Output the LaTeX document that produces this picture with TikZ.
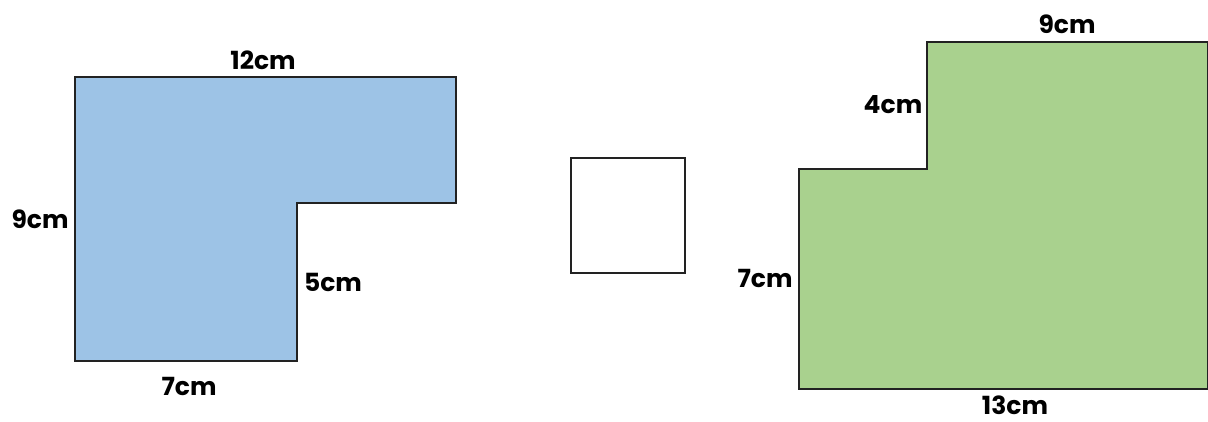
\documentclass[tikz,border=0pt]{standalone}
\usepackage{fontspec}
\setmainfont{Poppins}[BoldFont={* Bold}]
\definecolor{lblue}{HTML}{9DC3E6}
\definecolor{lgreen}{HTML}{A9D18E}
\definecolor{edge}{HTML}{222222}
\begin{document}
\begin{tikzpicture}[x=1pt,y=-1pt,
  shapeline/.style={draw=edge,line width=2.4pt,line join=miter},
  lbl/.style={font=\fontsize{25}{25}\selectfont\bfseries,text=black,inner sep=0pt}]
\useasboundingbox (0,0) rectangle (1208,421);
% blue L shape
\coordinate (b1) at (75,77);
\coordinate (b2) at (456,77);
\coordinate (b3) at (456,203);
\coordinate (b4) at (297,203);
\coordinate (b5) at (297,361);
\coordinate (b6) at (75,361);
\filldraw[shapeline,fill=lblue] (b1) -- (b2) -- (b3) -- (b4) -- (b5) -- (b6) -- cycle;
% square
\coordinate (s1) at (571,158);
\coordinate (s2) at (685,273);
\draw[shapeline,line width=2pt] (s1) rectangle (s2);
% green shape
\coordinate (g1) at (799,169);
\coordinate (g2) at (927,169);
\coordinate (g3) at (927,42);
\coordinate (g4) at (1208,42);
\coordinate (g5) at (1208,389);
\coordinate (g6) at (799,389);
\filldraw[shapeline,fill=lgreen] (g1) -- (g2) -- (g3) -- (g4) -- (g5) -- (g6) -- cycle;
% labels
\node[lbl] (l12) at (263,60) {12cm};
\node[lbl] (l9a) at (40,219) {9cm};
\node[lbl] (l5) at (333,282) {5cm};
\node[lbl] (l7a) at (189,386) {7cm};
\node[lbl] (l9b) at (1067,24) {9cm};
\node[lbl] (l4) at (893,105) {4cm};
\node[lbl] (l7b) at (765,278) {7cm};
\node[lbl] (l13) at (1015,405) {13cm};
\end{tikzpicture}
\end{document}
